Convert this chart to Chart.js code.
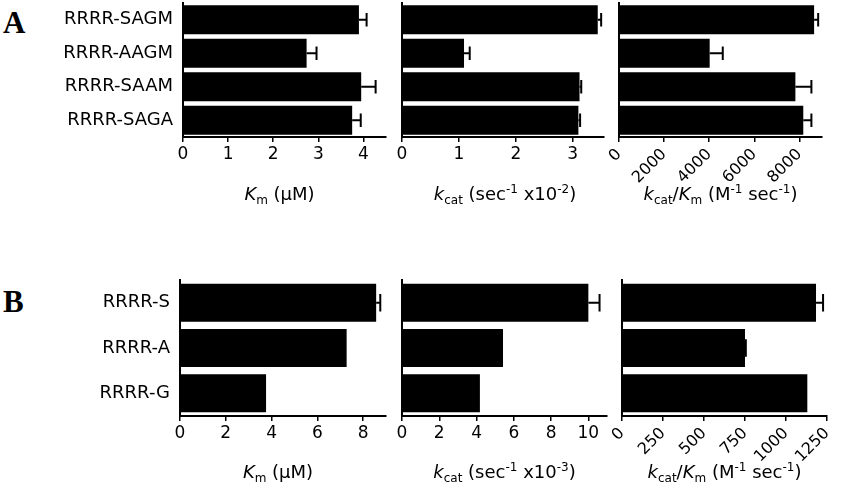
<!DOCTYPE html>
<html><head><meta charset="utf-8">
<script src="https://cdn.jsdelivr.net/npm/chart.js@4.4.1/dist/chart.umd.min.js"></script>
<style>
html,body{margin:0;padding:0;background:#fff;width:850px;height:488px;overflow:hidden;position:relative;}
canvas{position:absolute;}
.lab{position:absolute;font-family:"Liberation Serif","Times New Roman",serif;font-weight:bold;font-size:31px;line-height:1;color:#000;}
</style></head><body>
<div class="lab" style="left:3px;top:7px">A</div>
<div class="lab" style="left:3px;top:286px">B</div>
<canvas id="a1"></canvas><canvas id="a2"></canvas><canvas id="a3"></canvas>
<canvas id="b1"></canvas><canvas id="b2"></canvas><canvas id="b3"></canvas>
<script>
// ---- data ----
const catsA = ['RRRR-SAGM','RRRR-AAGM','RRRR-SAAM','RRRR-SAGA'];
const kmA = [3.90, 2.74, 3.95, 3.75];
const kmAErr = [4.07, 2.96, 4.27, 3.94];
const kcatA = [3.44, 1.09, 3.12, 3.10];
const kcatAErr = [3.50, 1.19, 3.15, 3.13];
const effA = [8650, 4020, 7820, 8170];
const effAErr = [8830, 4600, 8530, 8530];

const catsB = ['RRRR-S','RRRR-A','RRRR-G'];
const kmB = [8.57, 7.28, 3.76];
const kmBErr = [8.75, 7.28, 3.76];
const kcatB = [10.0, 5.42, 4.18];
const kcatBErr = [10.6, 5.42, 4.18];
const effB = [1183, 750, 1130];
const effBErr = [1226, 755, 1130];

const ticksKmA = [0,1,2,3,4];
const ticksKcatA = [0,1,2,3];
const ticksEffA = [0,2000,4000,6000,8000];
const ticksKmB = [0,2,4,6,8];
const ticksKcatB = [0,2,4,6,8,10];
const ticksEffB = [0,250,500,750,1000,1250];

const titleKm = [{t:'K',i:1},{t:'m',p:'sub'},{t:' (\u00b5M)'}];
const titleKcat2 = [{t:'k',i:1},{t:'cat',p:'sub'},{t:' (sec'},{t:'-1',p:'sup'},{t:' x10'},{t:'-2',p:'sup'},{t:')'}];
const titleKcat3 = [{t:'k',i:1},{t:'cat',p:'sub'},{t:' (sec'},{t:'-1',p:'sup'},{t:' x10'},{t:'-3',p:'sup'},{t:')'}];
const titleEff = [{t:'k',i:1},{t:'cat',p:'sub'},{t:'/'},{t:'K',i:1},{t:'m',p:'sub'},{t:' (M'},{t:'-1',p:'sup'},{t:' sec'},{t:'-1',p:'sup'},{t:')'}];

const FONT = '"DejaVu Sans", Verdana, sans-serif';

// ---- plugins ----
const errPlugin = {
  id:'errBars',
  afterDatasetsDraw(chart, args, opts){
    const errs = opts.errs; if(!errs) return;
    const meta = chart.getDatasetMeta(0);
    const xs = chart.scales.x; const ctx = chart.ctx;
    ctx.save(); ctx.strokeStyle='#000'; ctx.lineWidth=2;
    meta.data.forEach((el,i)=>{
      const v = chart.data.datasets[0].data[i];
      if(errs[i] <= v) return;
      const ex = xs.getPixelForValue(errs[i]);
      const h = el.height*0.23;
      ctx.beginPath();
      ctx.moveTo(el.x, el.y); ctx.lineTo(ex, el.y);
      ctx.moveTo(ex, el.y-h); ctx.lineTo(ex, el.y+h);
      ctx.stroke();
    });
    ctx.restore();
  }
};
const titlePlugin = {
  id:'richTitle',
  afterDraw(chart, args, opts){
    const segs = opts.segs; if(!segs) return;
    const ctx = chart.ctx; const base = opts.size||18; const small = Math.round(base*0.68);
    const fontOf = s => (s.i?'italic ':'') + (s.p? small: base) + 'px ' + FONT;
    let w = 0;
    segs.forEach(s=>{ctx.font = fontOf(s); w += ctx.measureText(s.t).width;});
    const a = chart.chartArea;
    let x = (a.left+a.right)/2 - w/2 + (opts.dx||0);
    const y = opts.y;
    ctx.save(); ctx.fillStyle='#000'; ctx.textBaseline='alphabetic'; ctx.textAlign='left';
    segs.forEach(s=>{
      ctx.font = fontOf(s);
      let yy = y; if(s.p==='sub') yy = y+4; if(s.p==='sup') yy = y-7;
      ctx.fillText(s.t, x, yy);
      x += ctx.measureText(s.t).width;
    });
    ctx.restore();
  }
};

function make(id, c){
  const cv = document.getElementById(id);
  cv.width = c.w; cv.height = c.h;
  cv.style.left = c.l+'px'; cv.style.top = c.t+'px';
  cv.style.width = c.w+'px'; cv.style.height = c.h+'px';
  return new Chart(cv, {
    type:'bar',
    data:{labels:c.cats, datasets:[{data:c.vals, backgroundColor:'#000', borderWidth:0,
      barPercentage:c.bp, categoryPercentage:1}]},
    plugins:[errPlugin, titlePlugin],
    options:{
      responsive:false, animation:false, devicePixelRatio:1, indexAxis:'y',
      layout:{padding:{left:0, top:c.aT-c.t, right:c.l+c.w-c.aR, bottom:0}},
      plugins:{legend:{display:false}, tooltip:{enabled:false},
        errBars:{errs:c.errs}, richTitle:{segs:c.title, y:c.ty-c.t, dx:c.tdx||0}},
      scales:{
        x:{type:'linear', min:0, max:c.max,
          afterBuildTicks:s=>{s.ticks = c.ticks.map(v=>({value:v}));},
          afterFit:s=>{s.height = c.t+c.h-c.aB; s.paddingLeft=0; s.paddingRight=0;},
          grid:{drawOnChartArea:false, drawTicks:true, tickLength:5, color:'#000', lineWidth:1.5},
          border:{display:true, color:'#000', width:2},
          ticks:{color:'#000', font:{family:FONT, size:c.rot?16:17}, padding:c.rot?3:2, autoSkip:false,
            minRotation:c.rot||0, maxRotation:c.rot||0, callback:v=>String(v)}
        },
        y:{type:'category',
          afterFit:s=>{s.width = c.aL-c.l; s.paddingTop=0; s.paddingBottom=0;},
          grid:{display:false},
          border:{display:true, color:'#000', width:2},
          ticks:{display:!!c.showCats, color:'#000', font:{family:FONT, size:18}, padding:2}
        }
      }
    }
  });
}

make('a1',{l:0,t:0,w:400,h:215,aL:183,aR:386,aT:3,aB:137,cats:catsA,vals:kmA,errs:kmAErr,max:4.5,ticks:ticksKmA,bp:0.87,showCats:true,title:titleKm,ty:200,tdx:-5});
make('a2',{l:390,t:0,w:230,h:215,aL:402,aR:604,aT:3,aB:137,cats:catsA,vals:kcatA,errs:kcatAErr,max:3.55,ticks:ticksKcatA,bp:0.87,title:titleKcat2,ty:200,tdx:2});
make('a3',{l:596,t:0,w:254,h:215,aL:619,aR:822,aT:3,aB:137,cats:catsA,vals:effA,errs:effAErr,max:9000,ticks:ticksEffA,bp:0.87,rot:45,title:titleEff,ty:200});
make('b1',{l:0,t:270,w:400,h:218,aL:180,aR:386,aT:280,aB:416,cats:catsB,vals:kmB,errs:kmBErr,max:9,ticks:ticksKmB,bp:0.84,showCats:true,title:titleKm,ty:478,tdx:-5});
make('b2',{l:390,t:270,w:230,h:218,aL:402,aR:607,aT:280,aB:416,cats:catsB,vals:kcatB,errs:kcatBErr,max:11,ticks:ticksKcatB,bp:0.84,title:titleKcat3,ty:478});
make('b3',{l:596,t:270,w:254,h:218,aL:622,aR:827,aT:280,aB:416,cats:catsB,vals:effB,errs:effBErr,max:1250,ticks:ticksEffB,bp:0.84,rot:45,title:titleEff,ty:478});
</script>
</body></html>
